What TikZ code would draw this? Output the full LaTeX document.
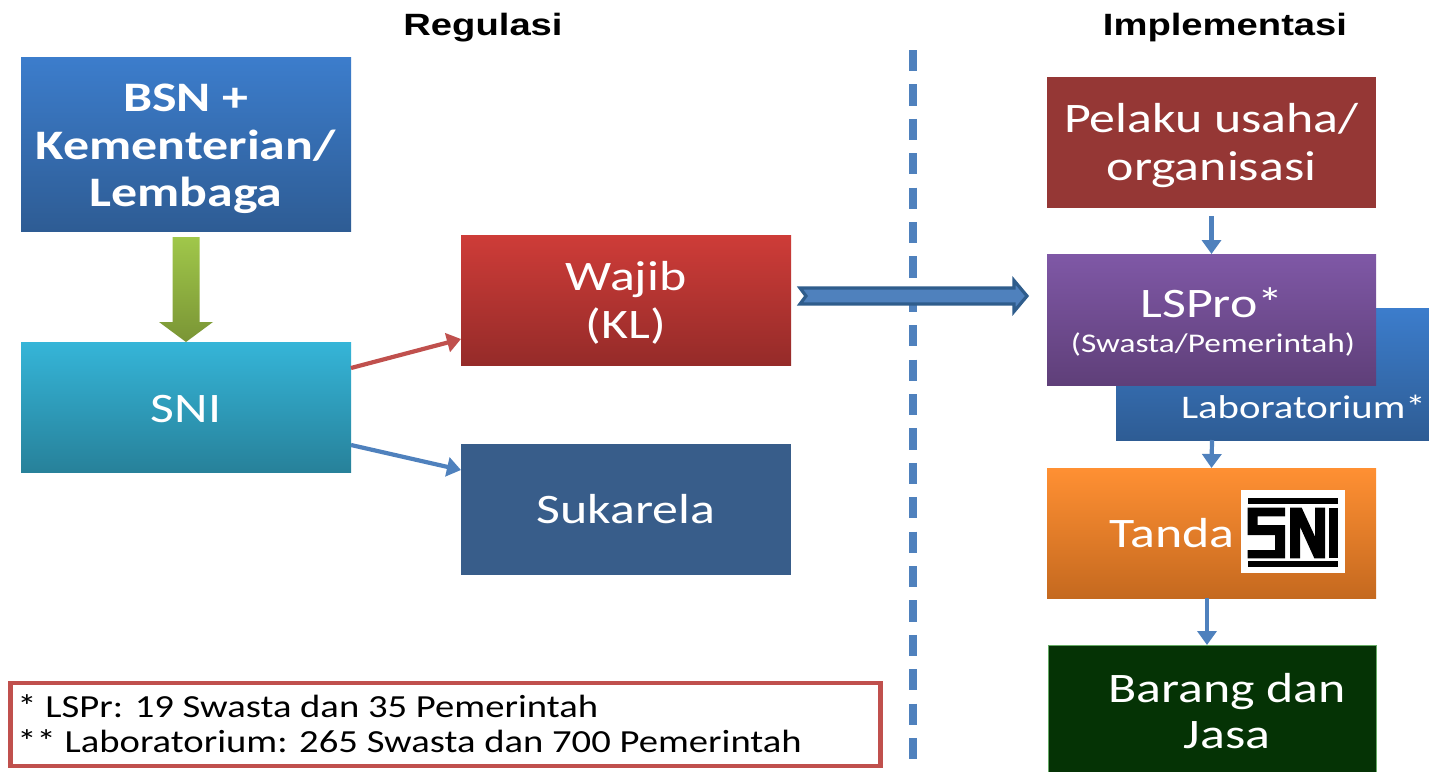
\documentclass[tikz,border=0pt]{standalone}
\usepackage{fontspec}
\setmainfont[FakeStretch=1.235]{Carlito}
\newfontfamily\notefont[FakeStretch=1.2]{Carlito}
\newfontfamily\headfont[FakeStretch=1.24]{Liberation Sans}
\usetikzlibrary{calc,arrows.meta}
\definecolor{flowblue}{HTML}{4F81BD}
\definecolor{flowdark}{HTML}{2F5D8C}
\definecolor{notered}{HTML}{C0504D}
\definecolor{bluetop}{HTML}{3C7DCC}
\definecolor{bluebot}{HTML}{2E5C94}
\definecolor{cyantop}{HTML}{35B5D8}
\definecolor{cyanbot}{HTML}{27819A}
\definecolor{redtop}{HTML}{CE3C38}
\definecolor{redbot}{HTML}{952B29}
\definecolor{volblue}{HTML}{385D8A}
\definecolor{brick}{HTML}{953735}
\definecolor{purptop}{HTML}{7F58A6}
\definecolor{purpbot}{HTML}{5F3F79}
\definecolor{orgtop}{HTML}{FF9033}
\definecolor{orgbot}{HTML}{C5691F}
\definecolor{darkgreen}{HTML}{053305}
\definecolor{greentop}{HTML}{A0C74A}
\definecolor{greenbot}{HTML}{7A9535}
\tikzset{
  x=0.5pt,y=-0.5pt,
  block/.style={rectangle,inner sep=0pt,outer sep=0pt,minimum width=165pt},
  label/.style={inner sep=0pt,outer sep=0pt,text=white,align=center,font=\fontsize{21pt}{23.75pt}\selectfont},
  flowline/.style={draw=flowblue,line width=2.1pt,-{Triangle[length=7pt,width=9.5pt]}},
  heading/.style={font=\headfont\bfseries\fontsize{15.4pt}{17pt}\selectfont,text=black,inner sep=0pt},
  noteline/.style={font=\notefont\fontsize{16.1pt}{18pt}\selectfont,text=black,inner sep=0pt,anchor=west},
}
\begin{document}
\begin{tikzpicture}
\useasboundingbox (0,0) rectangle (1429,771);
\clip (0,0) rectangle (1429,771);
\fill[white] (0,0) rectangle (1429,771);
% headings
\node[heading] (hreg) at (483,28) {Regulasi};
\node[heading] (himp) at (1225,28) {Implementasi};
% divider
\coordinate (dtop) at (913,50);
\coordinate (dbot) at (913,762);
\draw[flowblue,line width=3.8pt,dash pattern=on 10.6pt off 6.6pt] (dtop) -- (dbot);
% left column
\node[block,minimum height=87pt,top color=bluetop,bottom color=bluebot] (bsn) at (186,144) {};
\node[label] (bsntext) at ([yshift=-2.5pt]bsn.center) {\textbf{BSN +}\\\textbf{Kementerian/}\\\textbf{Lembaga}};
\node[block,minimum height=65pt,top color=cyantop,bottom color=cyanbot] (sni) at (186,407) {};
\node[label] (snitext) at ([yshift=-1pt]sni.center) {SNI};
% middle column
\node[block,minimum height=65pt,top color=redtop,bottom color=redbot] (wajib) at (626,300) {};
\node[label] (wajibtext) at ([yshift=-1.5pt]wajib.center) {Wajib\\(KL)};
\node[block,minimum height=65.5pt,fill=volblue] (sukarela) at (626,509.5) {};
\node[label] (sukarelatext) at (sukarela.center) {Sukarela};
% right column
\node[block,minimum width=164.5pt,minimum height=65.5pt,fill=brick] (pelaku) at (1211.5,142.5) {};
\node[label] (pelakutext) at ([yshift=-1.5pt]pelaku.center) {Pelaku usaha/\\organisasi};
\node[block,minimum width=192pt,minimum height=66pt,top color=bluetop,bottom color=bluebot] (lab) at (1308,374) {};
\node[label,anchor=west,font=\fontsize{16.5pt}{19pt}\selectfont] (labtext) at (1181,407) {Laboratorium**};
\node[block,minimum width=164.5pt,minimum height=65.5pt,top color=purptop,bottom color=purpbot] (lspro) at (1211.5,319.5) {};
\node[label] (lsprotext) at (1212,303) {LSPro*};
\node[label,font=\fontsize{13.5pt}{15pt}\selectfont] (lsprosub) at (1213,344) {(Swasta/Pemerintah)};
\node[block,minimum width=164.5pt,minimum height=65pt,top color=orgtop,bottom color=orgbot] (tanda) at (1211.5,533) {};
\node[label] (tandatext) at (1172,533) {Tanda};
\node[rectangle,fill=white,inner sep=0pt,minimum width=52pt,minimum height=41.5pt] (logo) at (1293,531.5) {};
\begin{scope}[shift={(1235,485)},x=0.16667pt,y=-0.16667pt]
  \fill[black] (38,38) rectangle (310,58);
  \fill[black] (38,228) rectangle (310,247);
  \fill[black] (38,68) -- (150,68) -- (150,94) -- (68,94) -- (68,120) -- (150,120) -- (150,220) -- (38,220) -- (38,195) -- (120,195) -- (120,150) -- (38,150) -- cycle;
  \fill[black] (165,68) -- (200,68) -- (240,155) -- (240,68) -- (270,68) -- (270,220) -- (238,220) -- (195,125) -- (195,220) -- (165,220) -- cycle;
  \fill[black] (283,68) rectangle (310,220);
\end{scope}
\node[block,minimum width=164pt,minimum height=80pt,fill=darkgreen,draw=green!45!black!60,line width=0.5pt] (barang) at (1212,725) {};
\node[label] (barangtext) at (1227,711) {Barang dan\\[-1pt]Jasa};
% note
\node[rectangle,draw=notered,line width=2.2pt,fill=white,minimum width=435pt,minimum height=41.5pt,inner sep=0pt] (note) at (445.5,724.5) {};
\node[noteline] (note1) at (17,706) {* LSPr: 19 Swasta dan 35 Pemerintah};
\node[noteline] (note2) at (17,741) {** Laboratorium: 265 Swasta dan 700 Pemerintah};
% green arrow
\shade[top color=greentop,bottom color=greenbot]
  ($(bsn.south)+(-13.5,6)$) -- ($(bsn.south)+(13.5,6)$) -- ($(sni.north)+(13.5,-20)$) -- ($(sni.north)+(27,-20)$) -- (sni.north) -- ($(sni.north)+(-27,-20)$) -- ($(sni.north)+(-13.5,-20)$) -- cycle;
% small connectors
\draw[flowline,draw=notered] ([yshift=19.5pt]sni.east) -- ([yshift=-19.5pt]wajib.west);
\draw[flowline] ([yshift=-19pt]sni.east) -- ([yshift=19.75pt]sukarela.west);
\draw[flowline] (pelaku.south) ++(0,8) -- (lspro.north);
\draw[flowline] ([xshift=-48pt]lab.south) -- (tanda.north);
\draw[flowline] ([xshift=-2.25pt]tanda.south) -- ([xshift=-2.25pt]tanda.south |- barang.north);
% hollow arrow
\path[fill=flowblue,draw=flowdark,line width=1.6pt,line join=miter]
  ($(wajib.east)+(9,-12)$) -- ($(lspro.west)+(-33,-31.5)$) -- ($(lspro.west)+(-33,-39)$) -- ($(lspro.west)+(-20,-23.5)$) -- ($(lspro.west)+(-33,-8)$) -- ($(lspro.west)+(-33,-15.5)$) -- ($(wajib.east)+(9,4)$) -- ($(wajib.east)+(15,-4)$) -- cycle;
\end{tikzpicture}
\end{document}
